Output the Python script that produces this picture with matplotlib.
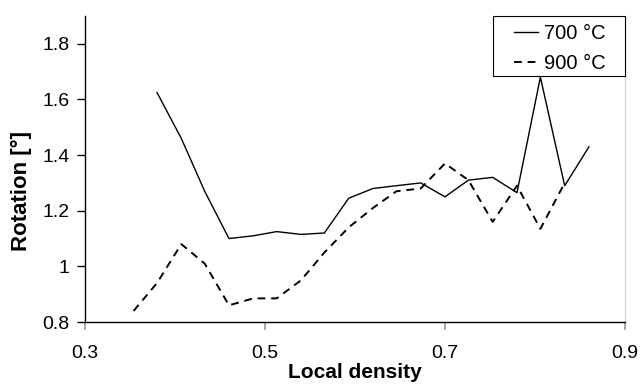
import matplotlib.pyplot as plt
from matplotlib.patches import Rectangle

plt.rcParams['font.family'] = ['Liberation Sans', 'DejaVu Sans']

# local density (x) for both series
x_700 = [0.380, 0.407, 0.433, 0.460, 0.487, 0.513, 0.540, 0.566, 0.593, 0.620,
         0.646, 0.673, 0.700, 0.726, 0.753, 0.780, 0.806, 0.833, 0.860]
rot_700 = [1.625, 1.46, 1.27, 1.10, 1.11, 1.125, 1.115, 1.12, 1.245, 1.28,
           1.29, 1.30, 1.25, 1.31, 1.32, 1.265, 1.68, 1.29, 1.43]

x_900 = [0.354, 0.380, 0.407, 0.433, 0.460, 0.487, 0.513, 0.540, 0.566, 0.593,
         0.620, 0.646, 0.673, 0.700, 0.726, 0.753, 0.780, 0.806, 0.833]
rot_900 = [0.84, 0.94, 1.08, 1.01, 0.86, 0.885, 0.885, 0.95, 1.05, 1.14,
           1.21, 1.27, 1.28, 1.37, 1.31, 1.16, 1.29, 1.135, 1.30]

xticks = [0.3, 0.5, 0.7, 0.9]
yticks = [0.8, 1.0, 1.2, 1.4, 1.6, 1.8]
ytick_labels = ['0.8', '1', '1.2', '1.4', '1.6', '1.8']

fig = plt.figure(figsize=(6.42, 3.85), dpi=100)
ax = fig.add_axes([0.1324, 0.1636, 0.8411, 0.7948])

ax.plot(x_700, rot_700, color='black', lw=1.0, label='700 °C')
ax.plot(x_900, rot_900, color='black', lw=1.4, dashes=(4, 3), label='900 °C')

ax.set_xlim(0.3, 0.9)
ax.set_ylim(0.8, 1.9)
ax.set_xticks(xticks)
ax.set_xticklabels([str(t) for t in xticks])
ax.set_yticks(yticks)
ax.set_yticklabels(ytick_labels)
ax.tick_params(axis='both', labelsize=14)
ax.tick_params(axis='x', direction='out', length=6, width=1.2, color='#999999', pad=10.5)
ax.tick_params(axis='y', direction='out', length=6, width=1, color='black', pad=5)

ax.spines['top'].set_visible(False)
ax.spines['right'].set_color('#cccccc')
ax.spines['left'].set_linewidth(1)
ax.spines['bottom'].set_linewidth(1)

ax.set_xlabel('Local density', fontsize=15, fontweight='bold')
ax.xaxis.set_label_coords(0.5, -0.134)
ax.set_ylabel('Rotation [°]', fontsize=16, fontweight='bold')
ax.yaxis.set_label_coords(-0.098, 0.428)

# legend box (square frame in the top right corner)
ax.add_patch(Rectangle((0.7556, 0.804), 0.2444, 0.196, transform=ax.transAxes,
                       facecolor='white', edgecolor='black', lw=0.8, zorder=4,
                       clip_on=False))
leg = ax.legend(loc='upper left', bbox_to_anchor=(0.7944, 0.975), fontsize=14.5,
                frameon=False, borderaxespad=0, borderpad=0, handlelength=1.2,
                handletextpad=0.3, labelspacing=0.55)
leg.set_zorder(5)

fig.savefig('out.png', dpi=100)
